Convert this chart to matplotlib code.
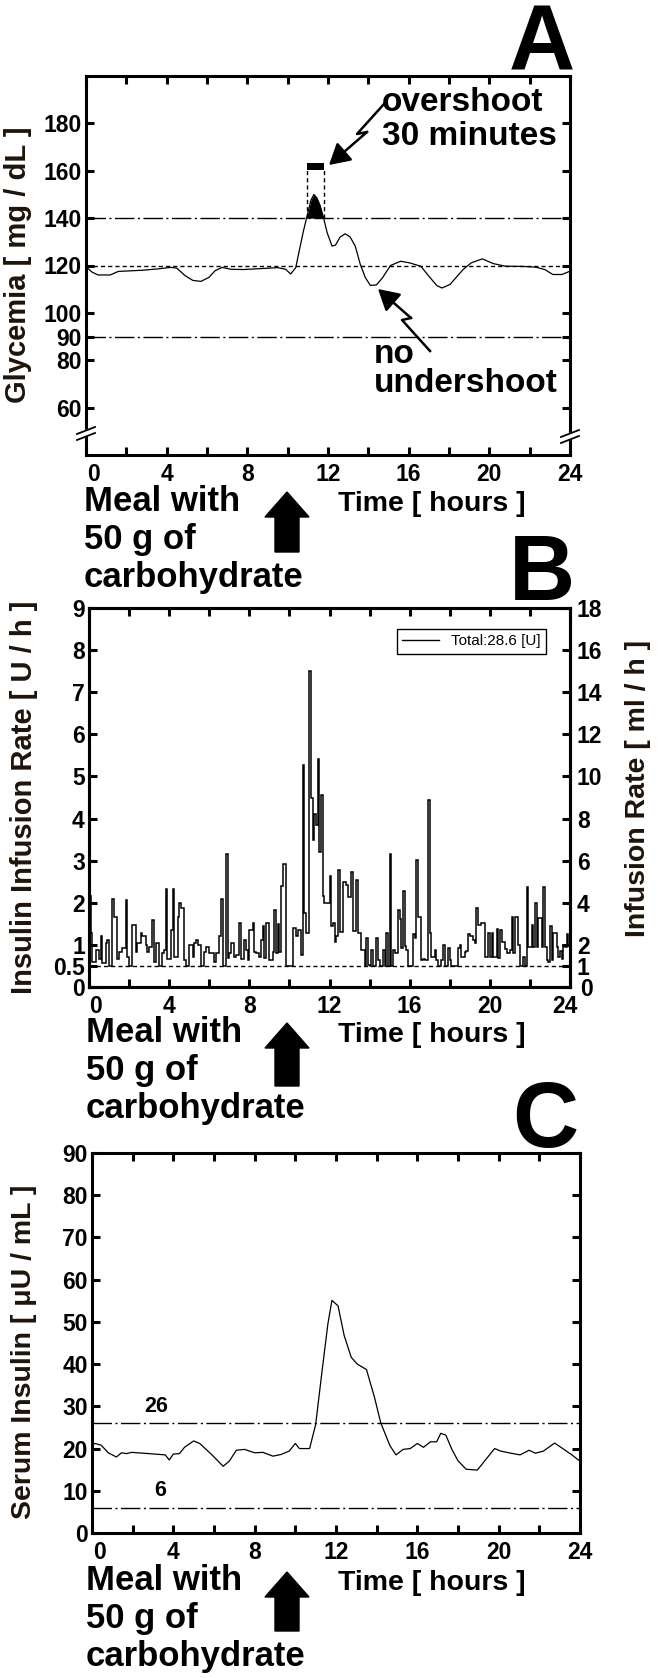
import matplotlib
matplotlib.use("Agg")
import matplotlib.pyplot as plt
from matplotlib.lines import Line2D
from matplotlib.patches import FancyArrow, FancyArrowPatch, Polygon, Rectangle
from matplotlib.transforms import ScaledTranslation
import numpy as np

plt.rcParams['font.family'] = ['Liberation Sans', 'DejaVu Sans']
plt.rcParams['font.weight'] = 'bold'

# ---- data ----
hours_ticks = list(range(0, 25, 2))
hour_labels = [str(h) if h % 4 == 0 else '' for h in hours_ticks]

# panel A: glycemia
gly_t = [0.0, 0.3, 0.6, 1.2, 1.6, 2.8, 3.6, 4.2, 4.5, 4.9, 5.3, 5.7, 6.1, 6.4, 6.75,
         7.2, 7.8, 8.7, 9.5, 9.9, 10.15, 10.4, 10.57, 10.78, 10.98, 11.15, 11.3, 11.45,
         11.6, 11.8, 11.96, 12.2, 12.37, 12.6, 12.85, 13.1, 13.35, 13.6, 13.85, 14.1,
         14.4, 14.7, 15.1, 15.6, 16.05, 16.6, 17.0, 17.4, 17.65, 18.05, 18.7, 19.1,
         19.65, 20.2, 20.8, 21.7, 22.3, 22.75, 23.15, 23.6, 24.0]
gly_v = [119.5, 117.2, 116.0, 116.0, 117.5, 118.0, 118.6, 119.2, 118.9, 115.8, 113.7,
         113.3, 115.0, 117.8, 119.2, 118.4, 118.3, 118.7, 119.1, 118.4, 116.4, 119.1,
         126.0, 134.5, 141.5, 147.5, 150.0, 148.5, 145.5, 139.4, 133.8, 128.2, 128.6,
         132.0, 133.4, 132.0, 128.2, 120.5, 114.9, 111.6, 111.8, 114.8, 120.0, 121.8,
         121.1, 119.7, 115.5, 111.5, 110.5, 112.0, 118.3, 121.1, 122.8, 120.8, 119.7,
         119.6, 119.3, 118.3, 116.2, 116.2, 117.6]
gly_yticks = [60, 80, 90, 100, 120, 140, 160, 180]
gly_upper, gly_target, gly_lower = 140, 120, 90
overshoot_start, overshoot_end = 10.95, 11.8
overshoot_bar = (160.5, 163.3)

# panel B: insulin infusion rate, 5-minute steps [U/h]
infusion = [
    2.15, 1.28, 0.6, 0.6, 0.87, 0.87, 0.67, 1.2, 0.56, 0.56, 1.05, 1.12,
    0.5, 0.5, 2.1, 1.66, 1.66, 0.66, 0.82, 0.82, 0.92, 0.92, 2.07, 0.72,
    0.5, 0.5, 1.48, 1.48, 0.84, 1.05, 1.05, 1.29, 1.2, 1.2, 1.0, 0.84,
    0.96, 0.96, 1.6, 0.6, 1.04, 1.04, 0.5, 0.5, 0.8, 0.88, 2.33, 0.66,
    0.66, 1.36, 2.33, 0.72, 0.72, 1.67, 2.0, 1.87, 1.87, 0.64, 0.5, 0.5,
    1.0, 1.0, 0.72, 1.04, 1.12, 1.0, 1.0, 0.5, 0.5, 0.84, 0.96, 0.96,
    0.8, 0.8, 0.8, 0.6, 0.8, 0.8, 1.2, 2.1, 0.5, 0.5, 3.16, 0.68,
    0.8, 1.04, 1.04, 0.72, 0.76, 0.76, 1.53, 0.66, 0.66, 1.12, 0.88, 0.64,
    1.36, 1.36, 1.52, 0.84, 0.8, 0.8, 0.72, 1.12, 1.44, 0.68, 1.53, 1.53,
    0.64, 0.64, 0.84, 1.82, 0.8, 1.49, 0.82, 2.39, 2.93, 2.93, 0.5, 0.5,
    0.5, 0.5, 1.41, 1.41, 1.2, 1.36, 1.36, 0.76, 5.27, 1.75, 1.28, 1.28,
    7.5, 4.5, 3.5, 4.1, 3.85, 5.42, 3.2, 4.55, 2.15, 2.0, 2.0, 2.0,
    2.63, 1.44, 1.52, 1.08, 1.2, 2.79, 1.3, 1.3, 2.5, 2.5, 2.42, 2.13,
    2.13, 2.73, 1.32, 1.32, 2.55, 1.28, 1.28, 0.88, 0.88, 0.5, 1.16, 0.52,
    0.5, 0.88, 0.5, 0.5, 1.16, 0.64, 0.5, 0.5, 0.88, 0.5, 1.28, 0.5,
    3.16, 0.5, 0.88, 0.8, 0.8, 1.83, 1.61, 0.92, 2.27, 0.98, 0.88, 0.5,
    0.5, 0.5, 1.26, 1.16, 3.02, 1.67, 1.67, 0.64, 0.66, 0.64, 0.64, 4.45,
    1.29, 0.72, 0.72, 0.88, 0.64, 0.5, 0.5, 0.64, 1.0, 0.5, 0.5, 0.92,
    0.64, 0.5, 0.5, 0.5, 0.5, 0.92, 1.0, 0.72, 0.72, 0.84, 0.86, 1.26,
    1.2, 1.2, 1.12, 1.04, 1.87, 1.48, 1.48, 1.52, 1.53, 0.72, 0.72, 1.29,
    0.72, 1.28, 0.72, 0.72, 1.37, 0.68, 1.36, 1.06, 1.06, 0.9, 0.8, 0.8,
    0.88, 1.67, 0.8, 1.67, 1.67, 1.0, 0.5, 0.5, 0.72, 0.5, 2.37, 0.96,
    0.96, 1.48, 0.96, 2.0, 0.96, 1.63, 1.63, 0.96, 2.37, 0.96, 0.64, 0.6,
    1.44, 0.64, 1.28, 1.28, 0.96, 0.72, 0.86, 0.66, 1.0, 0.96, 1.25, 1.0,
]
infusion_edges = np.arange(len(infusion) + 1) / 12.0
basal_rate = 0.5
left_ticks = [0, 0.5, 1, 2, 3, 4, 5, 6, 7, 8, 9]
left_labels = ['0', '0.5', '1', '2', '3', '4', '5', '6', '7', '8', '9']
right_ticks = [0, 1, 2, 4, 6, 8, 10, 12, 14, 16, 18]
legend_label = 'Total:28.6 [U]'

# panel C: serum insulin
ins_t = [0.0, 0.15, 0.45, 0.8, 1.2, 1.45, 1.7, 1.95, 2.8, 3.6, 3.8, 4.0, 4.3, 4.55,
         5.0, 5.3, 5.9, 6.45, 6.75, 7.1, 7.5, 8.0, 8.4, 8.9, 9.3, 9.7, 10.0, 10.2,
         10.7, 11.0, 11.3, 11.6, 11.8, 12.1, 12.4, 12.75, 13.05, 13.5, 13.9, 14.2,
         14.65, 14.95, 15.3, 15.65, 16.0, 16.3, 16.65, 16.95, 17.15, 17.4, 17.7,
         18.0, 18.4, 18.95, 19.4, 19.8, 20.1, 20.6, 21.05, 21.5, 21.8, 22.2, 22.75,
         23.15, 23.6, 24.0]
ins_v = [21.0, 21.2, 20.8, 19.0, 18.0, 19.0, 18.8, 19.1, 18.8, 18.5, 17.3, 18.7,
         18.8, 20.3, 21.8, 21.2, 18.5, 15.8, 17.0, 19.6, 19.8, 19.0, 19.1, 18.2,
         18.6, 19.4, 21.2, 20.0, 20.0, 25.7, 37.8, 49.5, 55.1, 53.8, 46.8, 41.6,
         40.0, 38.7, 32.0, 26.1, 20.7, 18.5, 19.8, 20.0, 21.2, 20.3, 21.6, 21.6,
         23.6, 23.2, 19.8, 17.1, 15.1, 14.9, 17.6, 20.0, 19.4, 18.9, 18.5, 19.6,
         18.9, 19.4, 21.3, 20.0, 18.5, 17.0]
ins_upper, ins_lower = 26, 6

# ---- figure in pixel units ----
W, H = 662, 1678
fig = plt.figure(figsize=(W / 100, H / 100), dpi=100)


def box(left, top, right, bottom):
    return [left / W, 1 - bottom / H, (right - left) / W, (bottom - top) / H]


def fxy(x, y):
    return (x / W, 1 - y / H)


def nudge(label, dx, dy):
    # shift a tick label by a few pixels
    label.set_transform(label.get_transform() +
                        ScaledTranslation(dx / 100, dy / 100, fig.dpi_scale_trans))


label_color = '#1e140a'
tick_size = 16.5
dashdot = (0, (14, 2.5, 1.5, 2.5))
dotted = (0, (3, 2.2))


def style(ax, right=True):
    for s in ax.spines.values():
        s.set_linewidth(2.2)
    ax.set_xlim(0, 24)
    ax.set_xticks(hours_ticks)
    ax.set_xticklabels(hour_labels)
    ax.tick_params(axis='both', direction='in', length=6, width=2.2, top=True,
                   right=right, labelsize=tick_size)
    ax.tick_params(axis='x', pad=6)
    ax.tick_params(axis='y', pad=3)
    # the zero label sits a little right of the corner in the original
    nudge(ax.get_xticklabels()[0], 7, 0)


def bottom_text(y_base, left=84):
    fig.text(432 / W, 1 - y_base / H, 'Time [ hours ]', fontsize=20.5,
             ha='center', va='baseline')
    for i, line in enumerate(['Meal with', '50 g of', 'carbohydrate']):
        fig.text(left / W, 1 - (y_base + i * 38) / H, line, fontsize=25,
                 ha='left', va='baseline')


def meal_arrow(tip, base):
    fig.add_artist(FancyArrow(2.87, (H - base) / 100, 0, (base - tip) / 100,
                              width=0.24, head_width=0.44, head_length=0.25,
                              length_includes_head=True, color='k',
                              transform=fig.dpi_scale_trans))


def bolt(points):
    xs = [fxy(x, y)[0] for x, y in points[:-1]]
    ys = [fxy(x, y)[1] for x, y in points[:-1]]
    fig.add_artist(Line2D(xs, ys, color='k', lw=1.8, transform=fig.transFigure))
    fig.add_artist(FancyArrowPatch(fxy(*points[-2]), fxy(*points[-1]),
                                   transform=fig.transFigure, color='k', lw=1.8,
                                   arrowstyle='-|>,head_length=0.7,head_width=0.4',
                                   mutation_scale=18, shrinkA=0, shrinkB=0))


def axis_break(x, y):
    fig.add_artist(Polygon([fxy(x - 8, y + 4), fxy(x + 8, y - 3), fxy(x + 8, y + 3),
                            fxy(x - 8, y + 10)], closed=True, color='white',
                           transform=fig.transFigure, zorder=5))
    for dy in (0, 6):
        fig.add_artist(Line2D([fxy(x - 9, y + 4 + dy)[0], fxy(x + 9, y - 3 + dy)[0]],
                              [fxy(x - 9, y + 4 + dy)[1], fxy(x + 9, y - 3 + dy)[1]],
                              color='k', lw=1.3, transform=fig.transFigure, zorder=6))


# ---- panel A ----
axA = fig.add_axes(box(86, 76, 570, 455))
style(axA)
axA.set_ylim(40, 200)
axA.set_yticks(gly_yticks)
axA.axhline(gly_upper, color='k', lw=1.0, ls=dashdot)
axA.axhline(gly_lower, color='k', lw=1.0, ls=dashdot)
axA.axhline(gly_target, color='k', lw=1.0, ls=dotted)
axA.plot(gly_t, gly_v, color='k', lw=0.9)
gv = np.array(gly_v)
axA.fill_between(gly_t, gv, gly_upper, where=gv > gly_upper, interpolate=True,
                 color='k', lw=0)
for xv in (overshoot_start, overshoot_end):
    axA.plot([xv, xv], [gly_upper, overshoot_bar[0]], color='k', lw=1.0, ls=dotted)
axA.add_patch(Rectangle((overshoot_start, overshoot_bar[0]),
                        overshoot_end - overshoot_start,
                        overshoot_bar[1] - overshoot_bar[0], color='k', lw=0))
fig.text(18 / W, 1 - 265 / H, 'Glycemia [ mg / dL ]', rotation=90, fontsize=21,
         ha='center', va='center', color=label_color)
fig.text(575 / W, 1 - 70 / H, 'A', fontsize=66, ha='right', va='baseline')
# multi-line texts: y is the baseline of the last line
fig.text(382 / W, 1 - 145 / H, 'overshoot\n30 minutes', fontsize=24, ha='left',
         va='baseline', linespacing=1.12)
fig.text(374 / W, 1 - 392 / H, 'no\nundershoot', fontsize=24, ha='left',
         va='baseline', linespacing=0.9)
bolt([(384, 104), (357, 134), (367, 132), (329, 165)])
bolt([(430, 351), (402, 320), (411, 318), (378, 289)])
axis_break(86, 430)
axis_break(570, 433)
bottom_text(511)
meal_arrow(492, 552)

# ---- panel B ----
axB = fig.add_axes(box(89, 608, 570, 987))
style(axB, right=False)
axB.set_ylim(0, 9)
axB.set_yticks(left_ticks)
axB.set_yticklabels(left_labels)
nudge(axB.get_xticklabels()[-1], -5, 0)
axB.axhline(basal_rate, color='k', lw=1.0, ls=dotted)
axB.stairs(infusion, infusion_edges, baseline=None, color='k', lw=1.1)
leg = axB.legend([Line2D([], [], color='k', lw=1.0)], [legend_label],
                 loc='upper right', bbox_to_anchor=(0.95, 0.945), borderaxespad=0,
                 fancybox=False, edgecolor='k', framealpha=1, handlelength=2.4,
                 borderpad=0.35, prop={'family': ['Liberation Sans Narrow', 'Liberation Sans'],
                                       'weight': 'normal', 'size': 11})
leg.get_frame().set_linewidth(1.0)
axB2 = axB.twinx()
axB2.set_ylim(0, 18)
axB2.set_yticks(right_ticks)
for s in axB2.spines.values():
    s.set_linewidth(2.2)
axB2.tick_params(axis='y', direction='in', length=6, width=2.2, labelsize=tick_size, pad=5)
nudge(axB2.get_yticklabels()[0], 3, 0)
fig.text(24 / W, 1 - 797 / H, 'Insulin Infusion Rate [ U / h ]', rotation=90,
         fontsize=21, ha='center', va='center', color=label_color)
fig.text(638 / W, 1 - 788 / H, 'Infusion Rate [ ml / h ]', rotation=90,
         fontsize=20.5, ha='center', va='center', color=label_color)
fig.text(575 / W, 1 - 600 / H, 'B', fontsize=66, ha='right', va='baseline')
bottom_text(1042, left=86)
meal_arrow(1023, 1086)

# ---- panel C ----
axC = fig.add_axes(box(92, 1153, 580, 1533))
style(axC)
axC.set_ylim(0, 90)
axC.set_yticks(range(0, 91, 10))
axC.axhline(ins_upper, color='k', lw=1.0, ls=dashdot)
axC.axhline(ins_lower, color='k', lw=1.0, ls=dashdot)
axC.plot(ins_t, ins_v, color='k', lw=0.9)
axC.text(3.15, ins_upper + 1.5, str(ins_upper), fontsize=15.5, ha='center', va='bottom')
axC.text(3.35, ins_lower + 1.5, str(ins_lower), fontsize=15.5, ha='center', va='bottom')
fig.text(24 / W, 1 - 1352 / H, 'Serum Insulin [ \u03bcU / mL ]', rotation=90,
         fontsize=20.5, ha='center', va='center', color=label_color)
fig.text(578 / W, 1 - 1147 / H, 'C', fontsize=66, ha='right', va='baseline')
bottom_text(1590, left=86)
meal_arrow(1572, 1631)

fig.savefig('out.png', dpi=100)
